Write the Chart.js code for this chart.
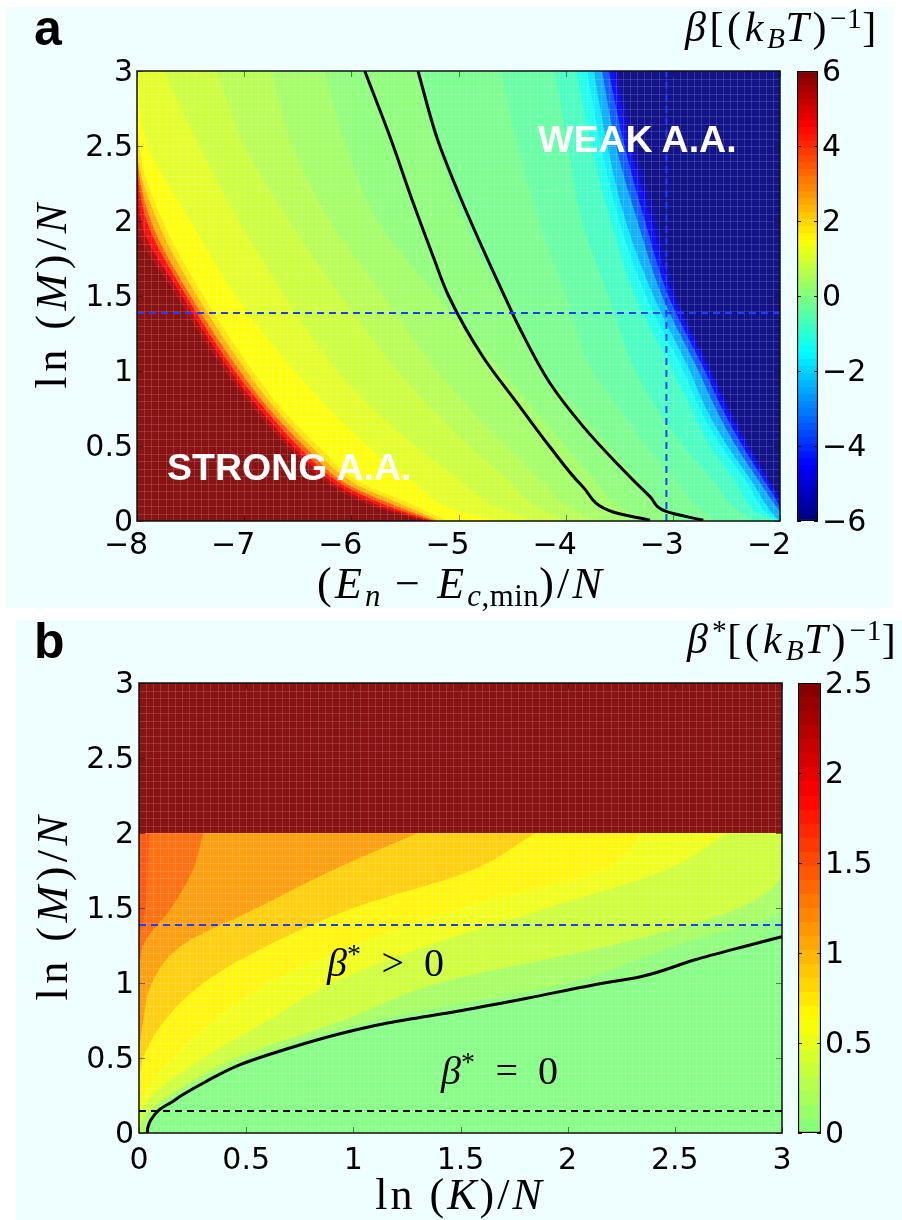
<!DOCTYPE html>
<html>
<head>
<meta charset="utf-8">
<title>beta maps</title>
<script src="https://cdn.jsdelivr.net/npm/chart.js@4.4.1/dist/chart.umd.min.js"></script>
<style>
  html, body { margin: 0; padding: 0; background: #fff; }
  body { position: relative; width: 902px; height: 1220px; overflow: hidden; }
  .panel { position: absolute; background: #efffff; }
  canvas { position: absolute; }
  .lbl { position: absolute; line-height: 1; white-space: nowrap; color: #000; }
  .math { font-family: 'Liberation Serif', 'DejaVu Serif', serif; }
  .math sub, .math sup { font-size: 0.7em; line-height: 0; letter-spacing: 0.5px; }
  .math sub { vertical-align: -0.25em; }
  .math sup { vertical-align: 0.45em; }
  .tag { font-family: 'Liberation Sans', Arial, sans-serif; font-weight: bold; }
  .zone { font-family: 'Liberation Sans', Arial, sans-serif; font-weight: bold; color: #fff; font-size: 37.5px; }
</style>
</head>
<body>
<div class="panel" style="left:5px;top:7px;width:888px;height:601px"></div>
<div class="panel" style="left:16px;top:620px;width:886px;height:600px"></div>

<canvas id="mapA" width="902" height="612" style="left:0;top:0"></canvas>
<canvas id="barA" width="112" height="612" style="left:790px;top:0"></canvas>
<canvas id="mapB" width="902" height="608" style="left:0;top:612px"></canvas>
<canvas id="barB" width="112" height="608" style="left:790px;top:612px"></canvas>

<div class="lbl tag" style="left:34px;top:3px;font-size:50px">a</div>
<div class="lbl tag" style="left:34px;top:616px;font-size:50px">b</div>
<div class="lbl zone" style="left:167px;top:449px">STRONG A.A.</div>
<div class="lbl zone" style="left:538px;top:121px">WEAK A.A.</div>
<div class="lbl math" style="left:685px;top:6px;font-size:42px;letter-spacing:3.6px"><i>β</i>[(<i>k</i><sub><i>B</i></sub><i>T</i>)<sup>−1</sup>]</div>
<div class="lbl math" style="left:687px;top:618px;font-size:42px;letter-spacing:4px"><i>β</i><sup>*</sup>[(<i>k</i><sub><i>B</i></sub><i>T</i>)<sup>−1</sup>]</div>
<div class="lbl math" style="left:461px;top:562px;font-size:44px;letter-spacing:3.2px;transform:translateX(-50%)">(<i>E</i><sub><i>n</i></sub> − <i>E</i><sub><i>c</i>,min</sub>)/<i>N</i></div>
<div class="lbl math" style="left:52px;top:294px;font-size:44px;letter-spacing:4.5px;transform:translate(-50%,-50%) rotate(-90deg)">ln (<i>M</i>)/<i>N</i></div>
<div class="lbl math" style="left:53px;top:906px;font-size:44px;letter-spacing:4.5px;transform:translate(-50%,-50%) rotate(-90deg)">ln (<i>M</i>)/<i>N</i></div>
<div class="lbl math" style="left:460px;top:1173px;font-size:44px;letter-spacing:3px;transform:translateX(-50%)">ln (<i>K</i>)/<i>N</i></div>
<div class="lbl math" style="left:327px;top:943px;font-size:40px"><i>β</i><sup>*</sup>&ensp;&gt;&ensp;0</div>
<div class="lbl math" style="left:441px;top:1051px;font-size:40px"><i>β</i><sup>*</sup>&ensp;=&ensp;0</div>

<script>
// ---- axes, tick labels, colour ranges
const A_X_TICKS = [-8, -7, -6, -5, -4, -3, -2];
const A_Y_TICKS = [0, 0.5, 1, 1.5, 2, 2.5, 3];
const A_BAR_TICKS = [-6, -4, -2, 0, 2, 4, 6];
const A_RANGE = [-6, 6];

const B_X_TICKS = [0, 0.5, 1, 1.5, 2, 2.5, 3];
const B_Y_TICKS = [0, 0.5, 1, 1.5, 2, 2.5, 3];
const B_BAR_TICKS = [0, 0.5, 1, 1.5, 2, 2.5];
const B_RANGE = [0, 2.5];

// ---- panel a: iso-beta lines, (E_n - E_c,min)/N where each level sits on a ln(M)/N row
const A_ROWS = [0, 0.05, 0.12, 0.25, 0.5, 0.75, 1, 1.5, 2, 2.5, 3];
const A_LEVELS = [-6, -5, -4, -3, -2, -1.5, -1, -0.5, -0.25, 0, 0.25, 0.5, 0.75, 1, 1.3, 1.7, 2, 3, 4, 5, 6];
const A_LEVEL_E = [
  [-2.00, -2.00, -2.00, -2.08, -2.28, -2.46, -2.63, -2.96, -3.14, -3.35, -3.51],
  [-2.00, -2.00, -2.00, -2.10, -2.31, -2.50, -2.66, -3.00, -3.20, -3.40, -3.55],
  [-2.00, -2.00, -2.02, -2.13, -2.35, -2.54, -2.70, -3.04, -3.26, -3.45, -3.60],
  [-2.00, -2.00, -2.06, -2.18, -2.41, -2.60, -2.76, -3.10, -3.33, -3.53, -3.66],
  [-2.00, -2.07, -2.14, -2.25, -2.49, -2.69, -2.84, -3.18, -3.44, -3.61, -3.74],
  [-2.00, -2.12, -2.20, -2.30, -2.55, -2.75, -2.90, -3.25, -3.50, -3.67, -3.80],
  [-2.00, -2.20, -2.30, -2.40, -2.65, -2.83, -3.00, -3.35, -3.58, -3.76, -3.90],
  [-2.25, -2.35, -2.47, -2.60, -2.90, -3.15, -3.35, -3.60, -3.85, -3.98, -4.10],
  [-2.60, -2.70, -2.82, -2.95, -3.25, -3.50, -3.75, -4.00, -4.25, -4.45, -4.60],
  [-2.95, -3.05, -3.17, -3.30, -3.60, -3.90, -4.20, -4.60, -4.95, -5.20, -5.40],
  [-3.30, -3.40, -3.55, -3.70, -4.00, -4.30, -4.60, -5.20, -5.75, -6.05, -6.25],
  [-3.70, -3.85, -4.02, -4.20, -4.55, -4.90, -5.20, -5.70, -6.20, -6.55, -6.75],
  [-4.00, -4.15, -4.32, -4.50, -4.90, -5.25, -5.57, -6.10, -6.58, -7.00, -7.25],
  [-4.30, -4.50, -4.72, -4.95, -5.40, -5.80, -6.13, -6.62, -7.05, -7.42, -7.75],
  [-4.60, -4.93, -5.18, -5.40, -5.85, -6.21, -6.53, -7.08, -7.50, -7.90, -8.00],
  [-5.10, -5.26, -5.46, -5.90, -6.31, -6.65, -6.92, -7.38, -7.76, -7.98, -8.00],
  [-5.18, -5.33, -5.56, -5.97, -6.38, -6.71, -6.98, -7.44, -7.81, -8.00, -8.00],
  [-5.21, -5.40, -5.65, -6.05, -6.44, -6.77, -7.04, -7.50, -7.87, -8.00, -8.00],
  [-5.24, -5.46, -5.73, -6.10, -6.50, -6.81, -7.09, -7.54, -7.91, -8.00, -8.00],
  [-5.27, -5.52, -5.80, -6.16, -6.55, -6.86, -7.13, -7.58, -7.96, -8.00, -8.00],
  [-5.30, -5.58, -5.88, -6.22, -6.60, -6.91, -7.18, -7.63, -8.00, -8.00, -8.00]
];

// the two solid boundaries and the dashed cuts of panel a
const A_CURVE1_E = [-5.875, -5.636, -5.418, -5.232, -5.092, -4.771, -4.454, -4.146, -3.838, -3.558, -3.213];
const A_CURVE1_M = [3.0, 2.555, 2.111, 1.755, 1.5, 1.093, 0.787, 0.493, 0.227, 0.06, 0.005];
const A_CURVE2_E = [-5.378, -5.201, -4.995, -4.781, -4.55, -4.436, -4.146, -3.836, -3.524, -3.213, -3.057, -2.716];
const A_CURVE2_M = [3.0, 2.555, 2.178, 1.827, 1.467, 1.295, 0.918, 0.629, 0.385, 0.163, 0.062, 0.005];
const A_CUT_M = 1.386;
const A_CUT_E = -3.06;

// ---- panel b: iso-beta* lines, ln(K)/N where each level sits on a ln(M)/N row
const B_ROWS = [0, 0.1, 0.25, 0.5, 0.75, 1, 1.25, 1.5, 1.75, 2];
const B_LEVELS = [0, 0.1, 0.25, 0.5, 0.6, 0.75, 1, 1.25, 1.5];
const B_LEVEL_K = [
  [0.038, 0.062, 0.20, 0.565, 1.23, 2.17, 2.84, 3, 3, 3],
  [0.030, 0.050, 0.17, 0.52, 1.10, 2.00, 2.50, 3, 3, 3],
  [0.010, 0.020, 0.14, 0.45, 0.95, 1.40, 2.20, 2.80, 3, 3],
  [0, 0, 0.06, 0.30, 0.60, 0.90, 1.35, 1.90, 2.45, 2.75],
  [0, 0, 0.02, 0.15, 0.35, 0.60, 1.00, 1.50, 2.15, 2.35],
  [0, 0, 0, 0.02, 0.12, 0.30, 0.60, 1.00, 1.55, 1.85],
  [0, 0, 0, 0, 0.02, 0.06, 0.20, 0.55, 0.90, 1.30],
  [0, 0, 0, 0, 0, 0, 0.02, 0.15, 0.25, 0.30],
  [0, 0, 0, 0, 0, 0, 0, 0.03, 0.04, 0.05]
];
// saturated block above ln(M)/N = 2
const B_TOP_ROWS = [2, 3];
const B_TOP_K = [3, 3];
const B_TOP_LEVEL = 2.5;

const B_CURVE_K = [0.038, 0.042, 0.055, 0.093, 0.156, 0.202, 0.311, 0.467, 0.70, 0.933, 1.166, 1.50, 1.81, 2.12, 2.34, 2.59, 2.82, 3.0];
const B_CURVE_M = [0.0, 0.04, 0.087, 0.153, 0.209, 0.253, 0.342, 0.453, 0.565, 0.66, 0.735, 0.815, 0.898, 0.987, 1.042, 1.153, 1.242, 1.309];
const B_CUT_BLUE_M = 1.386;
const B_CUT_BLACK_M = 0.147;

// ---- colour map (MATLAB jet)
function jet(t) {
  t = Math.min(1, Math.max(0, t));
  const ch = c => Math.round(255 * Math.min(1, Math.max(0, 1.5 - Math.abs(4 * t - c))));
  return [ch(3), ch(2), ch(1)];
}
const rgb = (c, wash = 0) => 'rgb(' + c.map(v => Math.round(v + (255 - v) * wash)).join(',') + ')';
const tA = v => (v - A_RANGE[0]) / (A_RANGE[1] - A_RANGE[0]);
const tB = v => 0.5 + 0.5 * (v - B_RANGE[0]) / (B_RANGE[1] - B_RANGE[0]);
const WASH = 0.07;
const BLUE = '#1f3dff';

// each level is filled from the left edge up to its iso-line, lowest level first
function bands(rows, levels, table, toT) {
  return levels.map((lv, k) => {
    const hi = k + 1 < levels.length ? levels[k + 1] : lv;
    return {
      kind: 'band',
      data: rows.map((r, i) => ({ x: table[k][i], y: r })),
      backgroundColor: rgb(jet(toT((lv + hi) / 2)), WASH),
      borderWidth: 0,
      pointRadius: 0,
      fill: false,
      cubicInterpolationMode: 'monotone',
      order: 1000 - k
    };
  });
}

function curve(xs, ys, color, width, dash) {
  return {
    kind: 'line',
    data: xs.map((x, i) => ({ x, y: ys[i] })),
    borderColor: color,
    borderWidth: width,
    borderDash: dash || [],
    borderCapStyle: 'butt',
    pointRadius: 0,
    fill: false,
    cubicInterpolationMode: xs.length > 2 ? 'monotone' : 'default',
    order: 0
  };
}

const TICK_FONT = { family: 'DejaVu Sans', size: 30 };
const fmt = v => (v < 0 ? '\u2212' + Math.abs(v) : String(v));

// base colour, band fills, cell mesh under the lines, frame and inward ticks on top
const heat = {
  id: 'heat',
  beforeDatasetsDraw(chart, args, opts) {
    const { ctx, chartArea: a } = chart;
    ctx.save();
    ctx.fillStyle = opts.base;
    ctx.fillRect(a.left, a.top, a.width, a.height);
    ctx.restore();
    chart.$meshed = false;
  },
  beforeDatasetDraw(chart, args, opts) {
    const ds = chart.data.datasets[args.index];
    const { ctx, chartArea: a } = chart;
    if (ds.kind === 'band') {
      const line = args.meta.dataset;
      if (line && line.updateControlPoints) line.updateControlPoints(a, 'y');
      const pts = args.meta.data;
      ctx.save();
      ctx.beginPath();
      ctx.rect(a.left, a.top, a.width, a.height);
      ctx.clip();
      ctx.beginPath();
      ctx.moveTo(pts[0].x, pts[0].y);
      for (let i = 1; i < pts.length; i++) {
        const p = pts[i - 1], c = pts[i];
        if (p.cp2x !== undefined && c.cp1x !== undefined) ctx.bezierCurveTo(p.cp2x, p.cp2y, c.cp1x, c.cp1y, c.x, c.y);
        else ctx.lineTo(c.x, c.y);
      }
      ctx.lineTo(a.left - 2, pts[pts.length - 1].y);
      ctx.lineTo(a.left - 2, pts[0].y);
      ctx.closePath();
      ctx.fillStyle = ds.backgroundColor;
      ctx.fill();
      ctx.restore();
      return;
    }
    if (chart.$meshed || ds.kind !== 'line') return;
    chart.$meshed = true;
    const [nx, ny] = opts.mesh;
    ctx.save();
    ctx.strokeStyle = 'rgba(255,255,255,0.14)';
    ctx.lineWidth = 1;
    ctx.beginPath();
    for (let i = 1; i < nx; i++) {
      const x = Math.round(a.left + a.width * i / nx) + 0.5;
      ctx.moveTo(x, a.top); ctx.lineTo(x, a.bottom);
    }
    for (let j = 1; j < ny; j++) {
      const y = Math.round(a.top + a.height * j / ny) + 0.5;
      ctx.moveTo(a.left, y); ctx.lineTo(a.right, y);
    }
    ctx.stroke();
    ctx.restore();
  },
  afterDatasetsDraw(chart) {
    const { ctx, chartArea: a, scales: { x, y } } = chart;
    ctx.save();
    ctx.strokeStyle = 'rgba(0,0,0,0.5)';
    ctx.lineWidth = 1;
    ctx.beginPath();
    x.ticks.forEach(t => {
      const px = Math.round(x.getPixelForValue(t.value)) + 0.5;
      ctx.moveTo(px, a.bottom); ctx.lineTo(px, a.bottom - 6);
      ctx.moveTo(px, a.top); ctx.lineTo(px, a.top + 6);
    });
    y.ticks.forEach(t => {
      const py = Math.round(y.getPixelForValue(t.value)) + 0.5;
      ctx.moveTo(a.left, py); ctx.lineTo(a.left + 6, py);
      ctx.moveTo(a.right, py); ctx.lineTo(a.right - 6, py);
    });
    ctx.stroke();
    ctx.strokeStyle = '#111';
    ctx.lineWidth = 1.5;
    ctx.strokeRect(a.left, a.top, a.width, a.height);
    ctx.restore();
  }
};

const barTicks = {
  id: 'barTicks',
  afterDatasetsDraw(chart) {
    const { ctx, chartArea: a, scales: { y } } = chart;
    ctx.save();
    ctx.strokeStyle = '#111';
    ctx.lineWidth = 1;
    ctx.beginPath();
    y.ticks.forEach(t => {
      const py = Math.round(y.getPixelForValue(t.value)) + 0.5;
      ctx.moveTo(a.left, py); ctx.lineTo(a.left + 4, py);
      ctx.moveTo(a.right, py); ctx.lineTo(a.right - 4, py);
    });
    ctx.stroke();
    ctx.restore();
  }
};

function mapChart(id, o) {
  return new Chart(document.getElementById(id), {
    type: 'line',
    data: { datasets: o.datasets },
    options: {
      indexAxis: 'y',
      animation: false,
      responsive: false,
      events: [],
      layout: { padding: o.padding },
      scales: {
        x: {
          type: 'linear', min: o.xRange[0], max: o.xRange[1],
          afterFit: s => { s.height = o.xHeight; },
          afterBuildTicks: s => { s.ticks = o.xTicks.map(v => ({ value: v })); },
          grid: { display: false, drawTicks: false },
          border: { display: false },
          ticks: { font: TICK_FONT, color: '#000', padding: o.xPad, labelOffset: o.xOffset, maxRotation: 0, autoSkip: false, callback: fmt }
        },
        y: {
          type: 'linear', min: o.yRange[0], max: o.yRange[1],
          afterFit: s => { s.width = o.yWidth; },
          afterBuildTicks: s => { s.ticks = o.yTicks.map(v => ({ value: v })); },
          grid: { display: false, drawTicks: false },
          border: { display: false },
          ticks: { font: TICK_FONT, color: '#000', padding: o.yPad, labelOffset: 2, autoSkip: false, callback: fmt }
        }
      },
      plugins: {
        legend: { display: false },
        tooltip: { enabled: false },
        heat: { base: o.base, mesh: o.mesh }
      }
    },
    plugins: [heat]
  });
}

function colorBar(id, o) {
  const ramp = c => {
    const area = c.chart.chartArea;
    if (!area) return '#000';
    const g = c.chart.ctx.createLinearGradient(0, area.bottom, 0, area.top);
    for (let i = 0; i < o.steps; i++) {
      const col = rgb(jet(o.toT(o.range[0] + (o.range[1] - o.range[0]) * (i + 0.5) / o.steps)));
      g.addColorStop(i / o.steps, col);
      g.addColorStop((i + 1) / o.steps, col);
    }
    return g;
  };
  return new Chart(document.getElementById(id), {
    type: 'bar',
    data: {
      labels: [''],
      datasets: [{
        data: [[o.range[0], o.range[1]]],
        backgroundColor: ramp,
        borderColor: '#000',
        borderWidth: 1.5,
        borderSkipped: false,
        barPercentage: 1,
        categoryPercentage: 1
      }]
    },
    options: {
      animation: false,
      responsive: false,
      events: [],
      layout: { padding: o.padding },
      scales: {
        x: { display: false },
        y: {
          position: 'right', min: o.range[0], max: o.range[1],
          afterFit: s => { s.width = o.width; },
          afterBuildTicks: s => { s.ticks = o.ticks.map(v => ({ value: v })); },
          grid: { display: false, drawTicks: false },
          border: { display: false },
          ticks: { font: TICK_FONT, color: '#000', padding: 4, labelOffset: 2, callback: fmt }
        }
      },
      plugins: { legend: { display: false }, tooltip: { enabled: false } }
    },
    plugins: [barTicks]
  });
}

// ---- panel a
mapChart('mapA', {
  datasets: [
    ...bands(A_ROWS, A_LEVELS, A_LEVEL_E, tA),
    curve([-8, -2], [A_CUT_M, A_CUT_M], BLUE, 2, [7, 5]),
    curve([A_CUT_E, A_CUT_E], [0, 3], BLUE, 2, [7, 5]),
    curve(A_CURVE1_E, A_CURVE1_M, '#000', 3),
    curve(A_CURVE2_E, A_CURVE2_M, '#000', 3)
  ],
  padding: { left: 0, right: 122, top: 71, bottom: 0 },
  xRange: [-8, -2], yRange: [0, 3],
  xTicks: A_X_TICKS, yTicks: A_Y_TICKS,
  xHeight: 91, yWidth: 137, xPad: 7, yPad: 4, xOffset: -11,
  base: rgb(jet(0), WASH),
  mesh: [90, 60]
});
colorBar('barA', {
  range: A_RANGE, ticks: A_BAR_TICKS, toT: tA, steps: 64,
  padding: { left: 7, right: 0, top: 71, bottom: 91 }, width: 84
});

// ---- panel b
mapChart('mapB', {
  datasets: [
    ...bands(B_ROWS, B_LEVELS, B_LEVEL_K, tB),
    { ...bands(B_TOP_ROWS, [B_TOP_LEVEL], [B_TOP_K], tB)[0], order: 1 },
    curve([0, 3], [B_CUT_BLUE_M, B_CUT_BLUE_M], BLUE, 2, [7, 5]),
    curve([0, 3], [B_CUT_BLACK_M, B_CUT_BLACK_M], '#000', 2, [7, 5]),
    curve(B_CURVE_K, B_CURVE_M, '#000', 3)
  ],
  padding: { left: 0, right: 120, top: 71, bottom: 0 },
  xRange: [0, 3], yRange: [0, 3],
  xTicks: B_X_TICKS, yTicks: B_Y_TICKS,
  xHeight: 87, yWidth: 139, xPad: 10, yPad: 5, xOffset: 0,
  base: rgb(jet(tB(0)), WASH),
  mesh: [90, 60]
});
colorBar('barB', {
  range: B_RANGE, ticks: B_BAR_TICKS, toT: tB, steps: 32,
  padding: { left: 8, right: 0, top: 71, bottom: 87 }, width: 81
});
</script>
</body>
</html>
